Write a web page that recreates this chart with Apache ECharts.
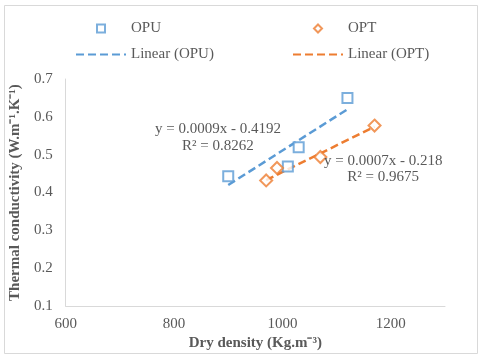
<!DOCTYPE html>
<html>
<head>
<meta charset="utf-8">
<script src="https://cdn.jsdelivr.net/npm/echarts@6/dist/echarts.min.js"></script>
<style>
  html, body { margin: 0; padding: 0; background: #fff; }
  #chart { width: 480px; height: 356px; }
</style>
</head>
<body>
<div id="chart"></div>
<script>
// measured points (dry density, thermal conductivity)
const opuDensity = [900, 1010, 1030, 1120];
const opuConductivity = [0.443, 0.469, 0.52, 0.65];
const optDensity = [970, 990, 1070, 1170];
const optConductivity = [0.432, 0.465, 0.494, 0.577];

// trend line ends as drawn
const opuTrendX = [900, 1120];
const opuTrendY = [0.42, 0.62];
const optTrendX = [970, 1170];
const optTrendY = [0.433, 0.574];

const opuEquation = ['y = 0.0009x - 0.4192', 'R² = 0.8262'];
const optEquation = ['y = 0.0007x - 0.218', 'R² = 0.9675'];

const xTicks = [600, 800, 1000, 1200];
const yTicks = [0.1, 0.2, 0.3, 0.4, 0.5, 0.6, 0.7];

const FONT = 'Liberation Serif';
const TEXT = '#595959';
const BLUE = '#5B9BD5';
const ORANGE = '#ED7D31';

const pairs = (xs, ys) => xs.map((x, i) => [x, ys[i]]);

const chart = echarts.init(document.getElementById('chart'));

const legendBase = {
  orient: 'vertical',
  top: 21,
  padding: 0,
  itemWidth: 50,
  itemHeight: 8,
  itemGap: 11,
  textStyle: { fontFamily: FONT, fontSize: 15, color: TEXT },
};

// hide the dot a line series puts in the middle of its legend icon
const noDot = { color: 'rgba(0,0,0,0)', borderWidth: 0, opacity: 0 };

const eqLabel = (lines) => ({
  show: true,
  position: 'inside',
  formatter: lines.join('\n'),
  fontFamily: FONT,
  fontSize: 15,
  lineHeight: 16.5,
  color: TEXT,
});

chart.setOption({
  backgroundColor: '#fff',
  animation: false,
  graphic: [{
    type: 'rect',
    left: 2,
    top: 3,
    shape: { width: 473, height: 348 },
    style: { fill: 'none', stroke: '#D9D9D9', lineWidth: 1 },
    silent: true,
  }],
  legend: [
    Object.assign({}, legendBase, {
      left: 75,
      data: [
        { name: 'OPU', icon: 'path://M0,0L10,0L10,10L0,10Z',
          itemStyle: { color: '#fff', borderColor: BLUE, borderWidth: 2 } },
        { name: 'Linear (OPU)', itemStyle: noDot },
      ],
    }),
    Object.assign({}, legendBase, {
      left: 292,
      data: [
        { name: 'OPT', icon: 'path://M5,0L10,5L5,10L0,5Z',
          itemStyle: { color: '#fff', borderColor: ORANGE, borderWidth: 2 } },
        { name: 'Linear (OPT)', itemStyle: noDot },
      ],
    }),
  ],
  grid: { left: 61, right: 35, top: 79, bottom: 49 },
  xAxis: {
    type: 'value',
    min: 600,
    max: 1300,
    interval: 200,
    name: 'Dry density (Kg.m⁻³)',
    nameLocation: 'middle',
    nameGap: 27,
    nameTextStyle: { fontFamily: FONT, fontSize: 15, fontWeight: 'bold', color: TEXT },
    axisLine: { show: true, lineStyle: { color: '#D9D9D9', width: 1 } },
    axisTick: { show: false },
    splitLine: { show: false },
    axisLabel: {
      margin: 10,
      fontFamily: FONT,
      fontSize: 15,
      color: TEXT,
      formatter: (v) => (xTicks.includes(v) ? String(v) : ''),
    },
  },
  yAxis: {
    type: 'value',
    min: 0.1,
    max: 0.7,
    interval: 0.1,
    name: 'Thermal conductivity (W.m⁻¹.K⁻¹)',
    nameLocation: 'middle',
    nameGap: 37,
    nameTextStyle: { fontFamily: FONT, fontSize: 15, fontWeight: 'bold', color: TEXT },
    axisLine: { show: true, lineStyle: { color: '#D9D9D9', width: 1 } },
    axisTick: { show: false },
    splitLine: { show: false },
    axisLabel: {
      margin: 13,
      fontFamily: FONT,
      fontSize: 15,
      color: TEXT,
      formatter: (v) => {
        const t = yTicks.find((y) => Math.abs(y - v) < 1e-6);
        return t === undefined ? '' : t.toFixed(1);
      },
    },
  },
  series: [
    {
      name: 'Linear (OPU)',
      type: 'line',
      data: pairs(opuTrendX, opuTrendY),
      symbol: 'none',
      z: 2,
      lineStyle: { color: BLUE, width: 2.5, type: [8, 4] },
      itemStyle: { color: BLUE },
      markPoint: {
        symbol: 'circle',
        symbolSize: 0,
        silent: true,
        data: [{ coord: [881, 0.5455] }],
        label: eqLabel(opuEquation),
      },
    },
    {
      name: 'Linear (OPT)',
      type: 'line',
      data: pairs(optTrendX, optTrendY),
      symbol: 'none',
      z: 2,
      lineStyle: { color: ORANGE, width: 2.5, type: [8, 4] },
      itemStyle: { color: ORANGE },
      markPoint: {
        symbol: 'circle',
        symbolSize: 0,
        silent: true,
        data: [{ coord: [1186, 0.4627] }],
        label: eqLabel(optEquation),
      },
    },
    {
      name: 'OPU',
      type: 'scatter',
      data: pairs(opuDensity, opuConductivity),
      symbol: 'rect',
      symbolSize: 10,
      z: 3,
      itemStyle: { color: '#fff', borderColor: BLUE, borderWidth: 2 },
    },
    {
      name: 'OPT',
      type: 'scatter',
      data: pairs(optDensity, optConductivity),
      symbol: 'diamond',
      symbolSize: 12,
      z: 3,
      itemStyle: { color: '#fff', borderColor: ORANGE, borderWidth: 2 },
    },
  ],
});
</script>
</body>
</html>
